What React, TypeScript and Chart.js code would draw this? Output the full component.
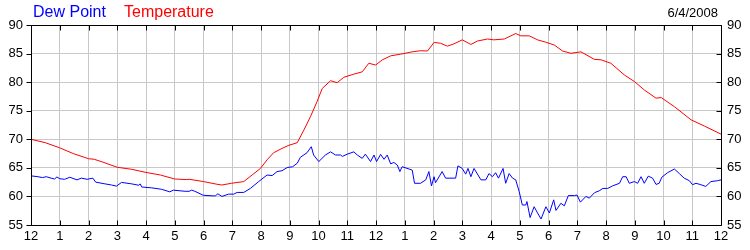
import React, { useEffect, useRef } from "react";
import { Chart, registerables } from "chart.js";

Chart.register(...registerables);

const xTickLabels = ["12", "1", "2", "3", "4", "5", "6", "7", "8", "9", "10", "11", "12", "1", "2", "3", "4", "5", "6", "7", "8", "9", "10", "11", "12"];

const tempHours = [0, 0.5, 1, 1.47, 2, 2.2, 2.5, 3, 3.5, 4, 4.5, 5, 5.4, 5.5, 6, 6.5, 6.64, 6.97, 7.4, 7.69, 7.98, 8.21, 8.44, 8.73, 8.97, 9.26, 9.49, 9.72, 9.95, 10.13, 10.42, 10.65, 10.88, 11.23, 11.52, 11.75, 11.99, 12.22, 12.51, 12.86, 13.26, 13.55, 13.79, 14.02, 14.25, 14.48, 14.71, 15.0, 15.3, 15.53, 15.88, 16.1, 16.46, 16.86, 17.04, 17.33, 17.62, 17.9, 18.2, 18.49, 18.78, 19.13, 19.59, 19.83, 20.17, 20.64, 20.99, 21.34, 21.74, 21.92, 22.38, 22.96, 23.43, 24];
const tempValues = [70.0, 69.4, 68.5, 67.5, 66.6, 66.5, 66.0, 65.1, 64.75, 64.2, 63.75, 63.05, 62.95, 63.0, 62.6, 62.1, 62.0, 62.3, 62.6, 63.75, 64.9, 66.4, 67.65, 68.4, 68.95, 69.4, 71.6, 73.95, 76.6, 78.9, 80.25, 79.9, 80.85, 81.4, 81.8, 83.3, 83.0, 83.9, 84.6, 84.9, 85.3, 85.5, 85.45, 86.95, 86.8, 86.3, 86.7, 87.4, 86.6, 87.2, 87.55, 87.4, 87.55, 88.5, 88.1, 88.1, 87.4, 87.0, 86.5, 85.45, 85.05, 85.3, 84.0, 83.9, 83.3, 81.25, 80.1, 78.6, 77.2, 77.3, 75.7, 73.4, 72.3, 70.9];

const dewHours = [0, 0.24, 0.4, 0.53, 0.7, 0.82, 0.9, 1.0, 1.17, 1.35, 1.6, 1.75, 1.95, 2.15, 2.25, 2.57, 2.8, 2.97, 3.15, 3.5, 3.75, 3.8, 3.85, 4.2, 4.54, 4.83, 4.95, 5.36, 5.5, 5.59, 5.7, 5.99, 6.34, 6.41, 6.5, 6.64, 6.87, 7.05, 7.17, 7.4, 7.63, 7.92, 8.21, 8.39, 8.56, 8.73, 8.91, 9.1, 9.26, 9.37, 9.6, 9.75, 9.83, 10.01, 10.24, 10.42, 10.59, 10.77, 10.83, 11.0, 11.23, 11.35, 11.52, 11.63, 11.81, 11.93, 12.02, 12.16, 12.28, 12.39, 12.51, 12.62, 12.74, 12.83, 12.91, 13.15, 13.26, 13.34, 13.55, 13.73, 13.84, 13.93, 14.02, 14.07, 14.3, 14.42, 14.77, 14.85, 15.0, 15.12, 15.2, 15.3, 15.41, 15.65, 15.82, 15.93, 16.05, 16.16, 16.26, 16.42, 16.51, 16.63, 16.75, 16.86, 16.98, 17.09, 17.21, 17.25, 17.36, 17.5, 17.62, 17.74, 17.91, 18.03, 18.18, 18.26, 18.43, 18.55, 18.69, 18.9, 18.99, 19.11, 19.3, 19.42, 19.6, 19.77, 19.89, 20.06, 20.23, 20.47, 20.58, 20.7, 20.81, 20.99, 21.1, 21.22, 21.33, 21.47, 21.62, 21.74, 21.85, 21.94, 22.14, 22.38, 22.55, 22.72, 22.9, 23.01, 23.13, 23.3, 23.47, 23.65, 23.88, 24];
const dewValues = [63.6, 63.45, 63.3, 63.45, 63.2, 63.05, 63.4, 63.1, 63.0, 63.35, 62.9, 63.2, 63.0, 63.2, 62.5, 62.2, 62.0, 61.8, 62.45, 62.2, 61.95, 62.2, 61.65, 61.5, 61.25, 60.8, 61.1, 60.9, 60.9, 61.1, 60.9, 60.2, 60.1, 60.1, 60.45, 60.0, 60.4, 60.4, 60.7, 60.7, 61.4, 62.6, 63.75, 63.65, 64.35, 64.5, 65.05, 65.2, 65.8, 66.85, 67.65, 68.7, 67.25, 66.1, 67.25, 67.8, 67.25, 67.25, 67.0, 67.4, 67.8, 67.25, 66.65, 67.4, 66.1, 67.25, 66.1, 67.35, 66.5, 67.25, 65.7, 65.95, 65.5, 64.35, 65.2, 64.8, 64.6, 62.3, 62.3, 62.9, 64.35, 61.85, 63.45, 62.4, 64.35, 63.2, 63.2, 65.35, 64.9, 63.9, 64.9, 63.45, 64.9, 62.9, 62.9, 64.0, 63.45, 64.15, 63.2, 64.9, 62.3, 64.0, 63.2, 62.9, 60.85, 58.5, 58.5, 59.1, 56.3, 58.2, 57.1, 56.05, 58.2, 57.1, 59.4, 57.55, 58.8, 58.35, 60.15, 60.15, 60.25, 59.0, 60.0, 59.7, 60.65, 61.0, 61.4, 61.4, 61.85, 62.3, 63.45, 63.45, 62.3, 62.6, 62.3, 63.45, 62.3, 63.55, 63.2, 62.1, 62.3, 63.35, 64.15, 64.8, 64.0, 63.2, 62.75, 62.05, 62.3, 62.05, 61.75, 62.6, 62.75, 62.9];

const seriesNames = ["Dew Point", "Temperature"];
const dateLabel = "6/4/2008";
const yMin = 55;
const yMax = 90;
const yStep = 5;

const FONT = "'Liberation Sans', Arial, sans-serif";

const framePlugin = {
  id: "framePlugin",
  afterDraw(chart: any) {
    const { ctx, chartArea } = chart;
    const { left, right, top, bottom } = chartArea;
    const xs = chart.scales.x;
    const ys = chart.scales.y;
    ctx.save();
    ctx.strokeStyle = "#000";
    ctx.lineWidth = 1;
    const L = Math.round(left) + 0.5;
    const R = Math.round(right) + 0.5;
    const T = Math.round(top) + 0.5;
    const B = Math.round(bottom) + 0.5;
    ctx.beginPath();
    ctx.rect(L, T, R - L, B - T);
    ctx.stroke();
    ctx.beginPath();
    for (let i = 0; i < xTickLabels.length; i++) {
      const px = Math.round(xs.getPixelForValue(i)) + 0.5;
      ctx.moveTo(px, T);
      ctx.lineTo(px, T + 5);
      ctx.moveTo(px, B);
      ctx.lineTo(px, B - 5);
    }
    for (let v = yMin; v <= yMax; v += yStep) {
      const py = Math.round(ys.getPixelForValue(v)) + 0.5;
      ctx.moveTo(L, py);
      ctx.lineTo(L - 5, py);
      ctx.moveTo(R, py);
      ctx.lineTo(R - 5, py);
    }
    ctx.stroke();
    ctx.textBaseline = "alphabetic";
    ctx.font = `16px ${FONT}`;
    ctx.textAlign = "left";
    ctx.fillStyle = "#0000ff";
    ctx.fillText(seriesNames[0], 33, 17);
    ctx.fillStyle = "#ff0000";
    ctx.fillText(seriesNames[1], 124, 17);
    ctx.font = `13px ${FONT}`;
    ctx.fillStyle = "#000";
    ctx.textAlign = "right";
    ctx.fillText(dateLabel, 718, 17);
    ctx.restore();
  },
};

export default function App() {
  const ref = useRef<HTMLCanvasElement>(null);
  useEffect(() => {
    if (!ref.current) return;
    const tickFont = { family: FONT, size: 13 };
    const chart = new Chart(ref.current, {
      type: "line",
      data: {
        datasets: [
          {
            label: seriesNames[1],
            data: tempHours.map((h, i) => ({ x: h, y: tempValues[i] })),
            borderColor: "#ff0000",
            borderWidth: 1,
            pointRadius: 0,
            tension: 0,
            fill: false,
          },
          {
            label: seriesNames[0],
            data: dewHours.map((h, i) => ({ x: h, y: dewValues[i] })),
            borderColor: "#0000ff",
            borderWidth: 1,
            pointRadius: 0,
            tension: 0,
            fill: false,
          },
        ],
      },
      options: {
        responsive: false,
        animation: false,
        layout: { padding: { top: 25, left: 0, right: 0, bottom: 0 } },
        plugins: { legend: { display: false }, title: { display: false }, tooltip: { enabled: false } },
        scales: {
          x: {
            type: "linear",
            min: 0,
            max: 24,
            afterFit: (s: any) => { s.height = 25; },
            afterBuildTicks: (s: any) => { s.ticks = xTickLabels.map((_, i) => ({ value: i })); },
            ticks: {
              stepSize: 1,
              autoSkip: false,
              maxRotation: 0,
              padding: 4,
              color: "#000",
              font: tickFont,
              callback: (v: any) => xTickLabels[Math.round(Number(v))] ?? "",
            },
            grid: { color: "#c8c8c8", drawTicks: false },
            border: { display: false },
          },
          y: {
            position: "left",
            min: yMin,
            max: yMax,
            afterFit: (s: any) => { s.width = 31; },
            ticks: { stepSize: yStep, padding: 8, color: "#000", font: tickFont },
            grid: { color: "#c8c8c8", drawTicks: false },
            border: { display: false },
          },
          y2: {
            position: "right",
            min: yMin,
            max: yMax,
            afterFit: (s: any) => { s.width = 29; },
            ticks: { stepSize: yStep, padding: 6, color: "#000", font: tickFont },
            grid: { display: false, drawTicks: false },
            border: { display: false },
          },
        },
      },
      plugins: [framePlugin],
    } as any);
    return () => chart.destroy();
  }, []);
  return (
    <div style={{ position: "absolute", left: 0, top: 0, width: 750, height: 250, background: "#fff" }}>
      <canvas ref={ref} width={750} height={250} />
    </div>
  );
}
